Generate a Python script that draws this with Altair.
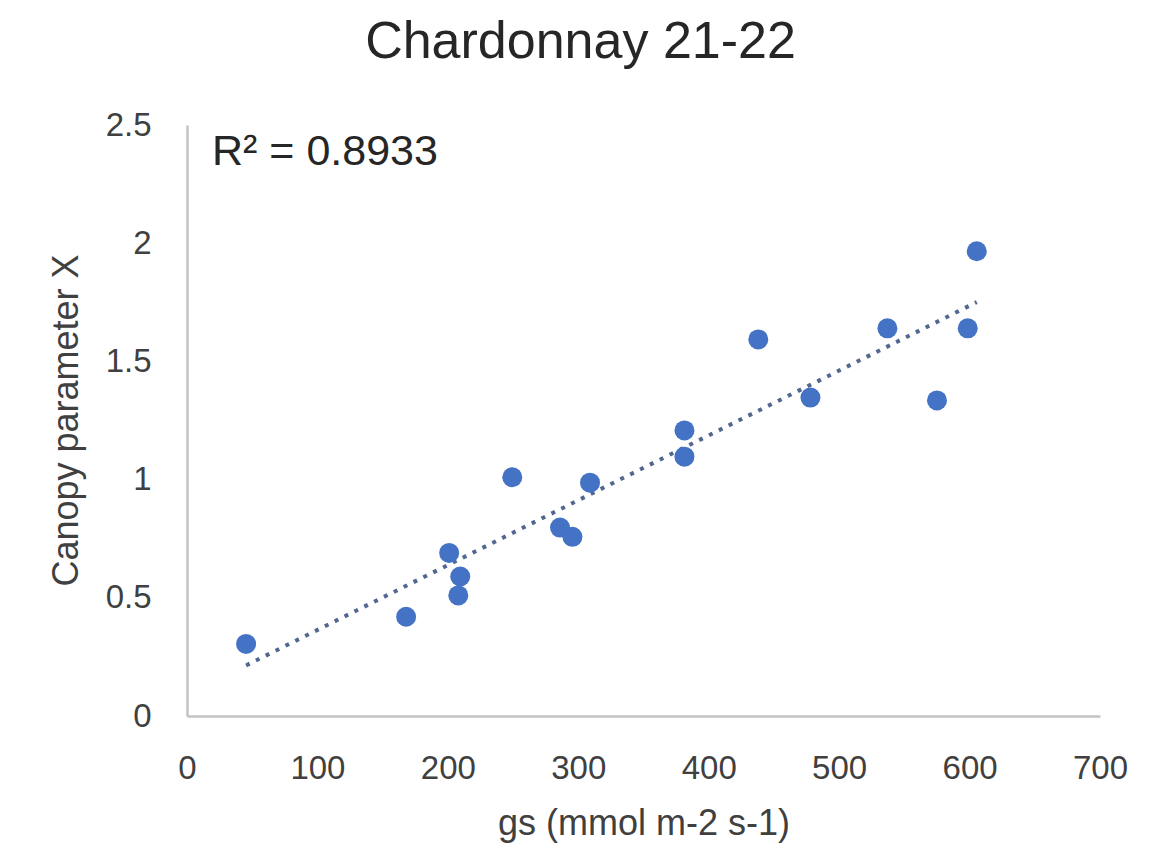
import altair as alt
import pandas as pd

# Data
gs = [45.3, 168, 201, 209.5, 208, 249.4, 286, 295.5, 309, 381.4, 381.4,
      438, 478, 537, 575, 598.6, 605.5]
canopy = [0.305, 0.42, 0.69, 0.59, 0.51, 1.01, 0.797, 0.758, 0.987, 1.208,
          1.097, 1.593, 1.347, 1.64, 1.335, 1.64, 1.966]
x_ticks = [0, 100, 200, 300, 400, 500, 600, 700]
y_ticks = [0, 0.5, 1, 1.5, 2, 2.5]
r2_text = ["R² = 0.8933"]

df = pd.DataFrame({"gs": gs, "canopy": canopy})

FONT = "Liberation Sans"
AXIS_COLOR = "#c3c3c3"
LABEL_COLOR = "#404040"

x_enc = alt.X(
    "gs:Q",
    scale=alt.Scale(domain=[0, 700], nice=False, zero=False),
    axis=alt.Axis(
        values=x_ticks, format="d", title="gs (mmol m-2 s-1)", grid=False,
        ticks=False, domainColor=AXIS_COLOR, domainWidth=2.5, labelFlush=False,
        labelFont=FONT, labelFontSize=33, labelColor=LABEL_COLOR, labelPadding=36,
        titleFont=FONT, titleFontSize=36, titleColor=LABEL_COLOR,
        titleFontWeight="normal", titleY=90, titleBaseline="top",
    ),
)
y_enc = alt.Y(
    "canopy:Q",
    scale=alt.Scale(domain=[0, 2.5], nice=False, zero=False),
    axis=alt.Axis(
        values=y_ticks, format="~g", title="Canopy parameter X", grid=False,
        ticks=False, domainColor=AXIS_COLOR, domainWidth=2.5, labelFlush=False,
        labelFont=FONT, labelFontSize=33, labelColor=LABEL_COLOR, labelPadding=36,
        titleFont=FONT, titleFontSize=36, titleColor=LABEL_COLOR,
        titleFontWeight="normal", titleX=-102, titleY=295,
        titleAngle=270, titleAlign="center", titleBaseline="bottom",
    ),
)

base = alt.Chart(df)

trend = base.transform_regression("gs", "canopy").mark_line(
    color="#52678f", strokeWidth=4, strokeDash=[4, 7], strokeCap="butt"
).encode(x=x_enc, y=y_enc)

points = base.mark_circle(size=400, color="#4472C4", opacity=1).encode(
    x=x_enc, y=y_enc
)

r2 = alt.Chart(pd.DataFrame({"t": r2_text})).mark_text(
    font=FONT, fontSize=43, color="#262626", align="left", baseline="alphabetic"
).encode(text="t:N", x=alt.value(25), y=alt.value(40))

chart = alt.layer(trend, points, r2).properties(
    width=913,
    height=591,
    title=alt.TitleParams(
        "Chardonnay 21-22", font=FONT, fontSize=52, fontWeight="normal",
        color="#262626", anchor="middle", offset=40, dx=-63,
    ),
    autosize=alt.AutoSizeParams(type="none"),
    padding={"left": 179, "top": 117, "right": 64, "bottom": 130},
    background="white",
).configure_view(strokeWidth=0)

chart.save("out.html", embed_options={"renderer": "svg", "actions": False})
